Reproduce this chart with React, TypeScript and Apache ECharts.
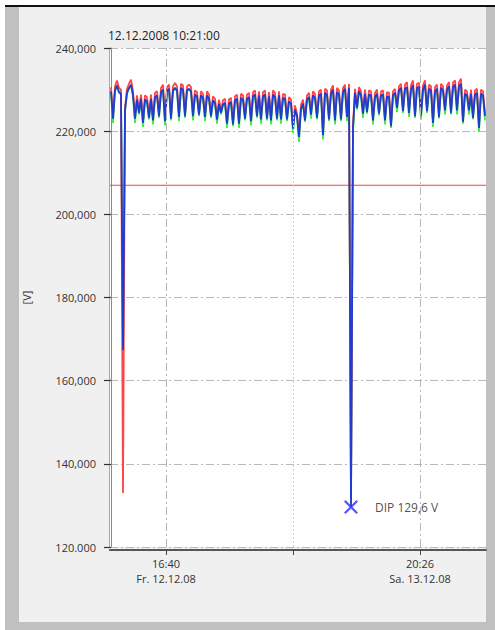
import React, { useEffect, useRef } from 'react';
import * as echarts from 'echarts';

// Mean voltage (blue)
const avgV = [
  229.6, 223.0, 229.8, 231.0, 229.4, 229.0, 167.4, 225.0, 229.2, 230.4,
  231.2, 228.6, 223.0, 227.6, 224.4, 227.8, 222.0, 227.6, 227.2, 223.2,
  227.8, 222.6, 228.2, 228.6, 223.6, 229.4, 230.0, 222.4, 229.6, 230.2,
  223.0, 229.8, 230.4, 229.8, 223.4, 230.4, 230.0, 223.6, 229.8, 230.2,
  229.6, 223.6, 228.8, 228.4, 224.0, 228.6, 228.0, 223.4, 228.6, 227.8,
  223.6, 227.4, 226.8, 222.8, 226.6, 224.4, 226.4, 226.8, 221.8, 226.6,
  227.0, 221.6, 227.4, 227.8, 221.8, 228.0, 227.6, 223.0, 227.8, 228.2,
  222.4, 228.4, 228.8, 223.6, 228.6, 222.8, 228.4, 228.8, 223.0, 228.4,
  222.6, 228.8, 228.2, 223.0, 228.6, 222.8, 228.0, 227.8, 222.8, 227.2,
  226.6, 220.6, 225.2, 223.6, 218.6, 225.4, 226.6, 222.6, 227.6, 228.2,
  224.0, 228.6, 228.0, 223.2, 228.6, 229.0, 219.0, 229.2, 228.8, 222.8,
  229.0, 230.0, 222.6, 229.4, 228.8, 222.8, 229.4, 230.2, 223.4, 230.4,
  129.6, 220.8, 229.2, 225.6, 229.6, 228.6, 224.2, 229.0, 224.6, 228.8,
  228.6, 222.6, 228.2, 229.0, 224.2, 228.6, 228.8, 222.6, 228.4, 228.2,
  221.2, 228.6, 229.2, 225.6, 229.8, 230.4, 224.8, 230.2, 230.6, 224.4,
  230.0, 231.0, 223.6, 230.4, 230.6, 223.8, 230.0, 231.2, 224.8, 230.2,
  229.8, 222.0, 229.6, 230.2, 223.4, 230.4, 229.8, 225.0, 230.0, 230.8,
  224.4, 230.6, 231.2, 225.0, 230.8, 231.4, 222.2, 229.0, 228.6, 225.0,
  229.0, 223.2, 228.8, 229.2, 220.8, 229.0, 228.6, 223.6
];

// Maximum voltage (red)
const maxV = [
  230.6, 223.6, 230.8, 232.2, 230.4, 230.0, 133.0, 225.6, 230.2, 231.4,
  232.4, 229.6, 223.6, 228.6, 225.0, 228.8, 222.6, 228.6, 228.2, 223.8,
  228.8, 223.2, 229.2, 229.6, 224.2, 230.4, 231.2, 223.0, 230.6, 231.2,
  223.6, 230.8, 231.6, 230.8, 224.0, 231.4, 231.0, 224.2, 230.8, 231.2,
  230.6, 224.2, 229.8, 229.4, 224.6, 229.6, 229.0, 224.0, 229.6, 228.8,
  224.2, 228.4, 227.8, 223.4, 227.6, 225.0, 227.4, 227.8, 222.4, 227.6,
  228.0, 222.2, 228.4, 228.8, 222.4, 229.0, 228.6, 223.6, 228.8, 229.2,
  223.0, 229.4, 229.8, 224.2, 229.6, 223.4, 229.4, 229.8, 223.6, 229.4,
  223.2, 229.8, 229.2, 223.6, 229.6, 223.4, 229.0, 228.8, 223.4, 228.2,
  227.6, 221.2, 226.2, 224.2, 219.2, 226.4, 227.6, 223.2, 228.6, 229.2,
  224.6, 229.6, 229.0, 223.8, 229.6, 230.0, 219.6, 230.2, 229.8, 223.4,
  230.0, 231.0, 223.2, 230.4, 229.8, 223.4, 230.4, 231.2, 224.0, 231.4,
  131.0, 221.4, 230.2, 226.2, 230.6, 229.6, 224.8, 230.0, 225.2, 229.8,
  229.6, 223.2, 229.2, 230.0, 224.8, 229.6, 229.8, 223.2, 229.4, 229.2,
  221.8, 229.6, 230.2, 226.2, 230.8, 231.4, 225.4, 231.2, 231.8, 225.0,
  231.0, 232.2, 224.2, 231.4, 231.6, 224.4, 231.0, 232.2, 225.4, 231.2,
  230.8, 222.6, 230.6, 231.2, 224.0, 231.4, 230.8, 225.6, 231.0, 231.8,
  225.0, 231.6, 232.2, 225.6, 231.8, 232.6, 222.8, 230.0, 229.6, 225.6,
  230.0, 223.8, 229.8, 230.2, 221.4, 230.0, 229.6, 224.2
];

// Minimum voltage (green)
const minV = [
  229.4, 222.0, 229.6, 230.8, 229.2, 228.8, 166.0, 224.6, 229.0, 230.2,
  231.0, 228.4, 222.0, 227.4, 224.0, 227.6, 221.0, 227.4, 227.0, 222.8,
  227.6, 221.6, 228.0, 228.4, 223.2, 229.2, 229.8, 221.4, 229.4, 230.0,
  222.6, 229.6, 230.2, 229.6, 222.4, 230.2, 229.8, 223.2, 229.6, 230.0,
  229.4, 222.6, 228.6, 228.2, 223.6, 228.4, 227.8, 222.4, 228.4, 227.6,
  223.2, 227.2, 226.6, 221.8, 226.4, 224.0, 226.2, 226.6, 220.8, 226.4,
  226.8, 221.2, 227.2, 227.6, 220.8, 227.8, 227.4, 222.6, 227.6, 228.0,
  221.4, 228.2, 228.6, 223.2, 228.4, 221.8, 228.2, 228.6, 222.6, 228.2,
  221.6, 228.6, 228.0, 222.6, 228.4, 221.8, 227.8, 227.6, 222.4, 227.0,
  226.4, 219.6, 225.0, 223.4, 217.4, 225.2, 226.4, 222.2, 227.4, 228.0,
  223.0, 228.4, 227.8, 222.8, 228.4, 228.8, 218.0, 229.0, 228.6, 222.4,
  228.8, 229.8, 221.6, 229.2, 228.6, 222.4, 229.2, 230.0, 222.4, 230.2,
  130.0, 219.8, 229.0, 225.2, 229.4, 228.4, 223.2, 228.8, 224.2, 228.6,
  228.4, 221.6, 228.0, 228.8, 223.8, 228.4, 228.6, 221.6, 228.2, 228.0,
  220.8, 228.4, 229.0, 224.6, 229.6, 230.2, 224.4, 230.0, 230.4, 223.4,
  229.8, 230.8, 223.2, 230.2, 230.4, 222.8, 229.8, 231.0, 224.4, 230.0,
  229.6, 221.0, 229.4, 230.0, 223.0, 230.2, 229.6, 224.0, 229.8, 230.6,
  224.0, 230.4, 231.0, 224.0, 230.6, 231.2, 221.8, 228.8, 228.4, 224.0,
  228.8, 222.8, 228.6, 229.0, 219.8, 228.8, 228.4, 222.6
];

const xTickPositions = [27.5, 91, 154.5];
const xLabelPositions = [27.5, 154.5];
const xLabelTexts = ['16:40\nFr. 12.12.08', '20:26\nSa. 13.12.08'];
const xMin = -0.5;
const xMax = 187.5;
const yMin = 120;
const yMax = 240;
const yInterval = 20;
const limitValue = 207;
const dipIndex = 120;
const dipValue = 129.6;
const dipText = 'DIP 129,6 V';
const titleText = '12.12.2008 10:21:00';
const yName = '[V]';

const FONT = '"Open Sans", "Noto Sans", sans-serif';

const toPairs = (arr: number[]) => arr.map((v, i) => [i, v]);

export default function App() {
  const ref = useRef<HTMLDivElement>(null);

  useEffect(() => {
    if (!ref.current) return;
    const chart = echarts.init(ref.current, null, { renderer: 'svg' });
    const dash = [8, 3, 2, 3];
    chart.setOption({
      animation: false,
      backgroundColor: 'transparent',
      textStyle: { fontFamily: FONT },
      title: {
        text: titleText,
        left: 103,
        top: 24,
        textStyle: { fontSize: 12, fontWeight: 'normal', color: '#1e1e1e', fontFamily: FONT },
      },
      grid: {
        left: 110,
        top: 48,
        width: 376,
        height: 499,
        show: true,
        backgroundColor: '#ffffff',
        borderWidth: 0,
      },
      xAxis: {
        type: 'value',
        min: xMin,
        max: xMax,
        offset: 3,
        axisLine: { show: true, lineStyle: { color: '#555', width: 2 } },
        axisTick: {
          show: true,
          length: 5,
          customValues: xTickPositions,
          lineStyle: { color: '#444', width: 1 },
        },
        axisLabel: {
          customValues: xLabelPositions,
          formatter: (v: number) => {
            const k = xLabelPositions.indexOf(v);
            return k >= 0 ? xLabelTexts[k] : '';
          },
          color: '#333',
          fontSize: 11,
          lineHeight: 15,
          margin: 6,
          fontFamily: FONT,
        },
        splitLine: { show: false },
      },
      yAxis: [
        {
          type: 'value',
          min: yMin,
          max: yMax,
          interval: yInterval,
          offset: 4,
          name: yName,
          nameLocation: 'middle',
          nameGap: 74,
          nameTextStyle: { color: '#333', fontSize: 11, fontFamily: FONT },
          axisLine: { show: true, lineStyle: { color: '#8a8a8a', width: 1 } },
          axisTick: { show: true, length: 7, lineStyle: { color: '#333', width: 1.2 } },
          axisLabel: {
            color: '#333',
            fontSize: 11,
            margin: 10,
            fontFamily: FONT,
            formatter: (v: number) =>
              v === yMin ? v.toFixed(3) : v.toFixed(3).replace('.', ','),
          },
          splitLine: { show: true, lineStyle: { color: '#b8b8b8', width: 1, type: dash } },
        },
        {
          type: 'value',
          min: yMin,
          max: yMax,
          interval: yInterval,
          offset: 1,
          position: 'left',
          axisLine: { show: true, lineStyle: { color: '#a8a8a8', width: 1 } },
          axisTick: { show: false },
          axisLabel: { show: false },
          splitLine: { show: false },
        },
      ],
      series: [
        {
          name: 'min',
          type: 'line',
          data: toPairs(minV),
          showSymbol: false,
          symbol: 'none',
          z: 2,
          lineStyle: { color: '#3cf03c', width: 1.8 },
          markLine: {
            silent: true,
            symbol: ['none', 'none'],
            label: { show: false },
            lineStyle: { color: '#b8b8b8', width: 1, type: dash },
            data: [
              { xAxis: xTickPositions[0] },
              { xAxis: xTickPositions[1], lineStyle: { color: '#d0d0d0', width: 1, type: [2, 2] } },
              { xAxis: xTickPositions[2] },
            ],
          },
        },
        {
          name: 'limit',
          type: 'line',
          data: [[xMin, limitValue], [xMax, limitValue]],
          showSymbol: false,
          symbol: 'none',
          z: 2,
          lineStyle: { color: '#ff3c3c', width: 1.2 },
        },
        {
          name: 'max',
          type: 'line',
          data: toPairs(maxV),
          showSymbol: false,
          symbol: 'none',
          z: 3,
          lineStyle: { color: '#ff4646', width: 1.8 },
        },
        {
          name: 'avg',
          type: 'line',
          data: toPairs(avgV),
          showSymbol: false,
          symbol: 'none',
          z: 4,
          lineStyle: { color: '#1c3cd2', width: 1.8 },
        },
        {
          name: 'dip',
          type: 'scatter',
          z: 5,
          data: [[dipIndex, dipValue]],
          symbol:
            'path://M0,1.6 L1.6,0 L7,5.4 L12.4,0 L14,1.6 L8.6,7 L14,12.4 L12.4,14 L7,8.6 L1.6,14 L0,12.4 L5.4,7 Z',
          symbolSize: 14,
          itemStyle: { color: '#2e2eff' },
          label: {
            show: true,
            position: 'right',
            distance: 17,
            formatter: dipText,
            color: '#222',
            fontSize: 12,
            fontFamily: FONT,
          },
        },
      ],
    });
    return () => chart.dispose();
  }, []);

  return (
    <div style={{ position: 'absolute', left: 0, top: 0, width: 495, height: 630, background: '#fff', overflow: 'hidden' }}>
      <div style={{ position: 'absolute', left: 5, top: 5, width: 490, height: 2, background: '#111' }} />
      <div style={{ position: 'absolute', left: 5, top: 7, width: 490, height: 623, background: '#c0c0c0' }} />
      <div style={{ position: 'absolute', left: 19, top: 7, width: 467, height: 615, background: '#f0f0f0' }} />
      <div ref={ref} style={{ position: 'absolute', left: 0, top: 0, width: 495, height: 630 }} />
    </div>
  );
}
